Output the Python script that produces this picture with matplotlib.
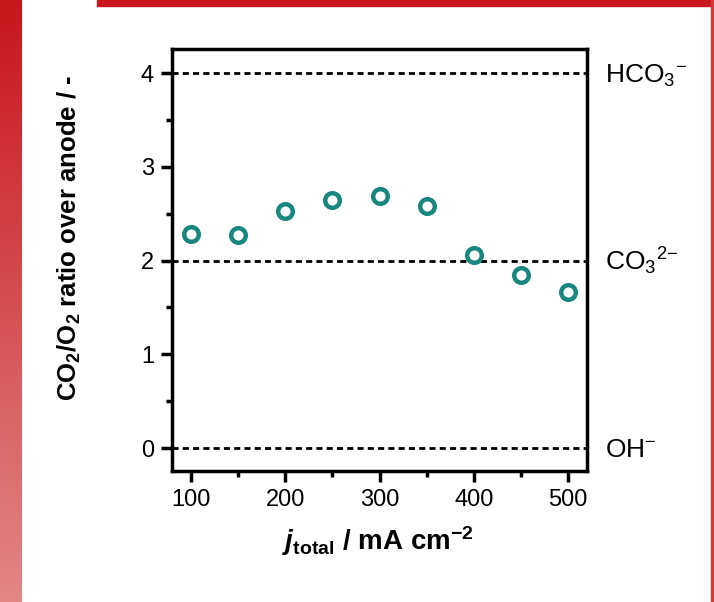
import numpy as np
import matplotlib
matplotlib.use('Agg')
import matplotlib.pyplot as plt
from matplotlib.patches import Rectangle
from matplotlib.transforms import blended_transform_factory, offset_copy

plt.rcParams['font.family'] = ['Liberation Sans', 'DejaVu Sans']
plt.rcParams['mathtext.fontset'] = 'custom'
plt.rcParams['mathtext.rm'] = 'Liberation Sans'
plt.rcParams['mathtext.it'] = 'Liberation Sans:italic:bold'
plt.rcParams['mathtext.bf'] = 'Liberation Sans:bold'

# data
j_total = [100, 150, 200, 250, 300, 350, 400, 450, 500]
ratio = [2.28, 2.27, 2.53, 2.65, 2.69, 2.58, 2.06, 1.85, 1.66]
ref_levels = [4, 2, 0]
ref_labels = ['HCO$_3$$^{{-}}$', 'CO$_3$$^{2{-}}$', 'OH$^{{-}}$']
xticks = [100, 200, 300, 400, 500]
yticks = [0, 1, 2, 3, 4]

fig = plt.figure(figsize=(7.14, 6.02), dpi=100)

# red frame around the slide
grad = fig.add_axes([0, 0, 22 / 714, 1])
g = np.linspace(0, 1, 256).reshape(-1, 1)
top_c = np.array([200, 22, 28]) / 255
bot_c = np.array([226, 135, 135]) / 255
img = top_c[None, None, :] * (1 - g[..., None]) + bot_c[None, None, :] * g[..., None]
grad.imshow(img, aspect='auto', extent=[0, 1, 0, 1])
grad.set_axis_off()
fig.patches.append(Rectangle((97 / 714, 1 - 6 / 602), 1, 6 / 602, transform=fig.transFigure,
                             color='#c8161c', zorder=0))
fig.patches.append(Rectangle((711 / 714, 0), 3 / 714, 1, transform=fig.transFigure,
                             color='#d23a3a', zorder=0))

# axes box: 172..587 px wide, 49..471 px tall
ax = fig.add_axes([172 / 714, 1 - 471 / 602, 415 / 714, 422 / 602])

for lv in ref_levels:
    ax.axhline(lv, color='black', linestyle=(0, (2.2, 1.5)), linewidth=2, zorder=1)

ax.plot(j_total, ratio, linestyle='none', marker='o', markersize=10.5,
        markerfacecolor='white', markeredgecolor='#17877f', markeredgewidth=3.2, zorder=3)

ax.set_xlim(80, 520)
ax.set_ylim(-0.245, 4.256)
ax.set_xticks(xticks)
ax.set_xticks([150, 250, 350, 450], minor=True)
ax.set_yticks(yticks)
ax.set_yticks([0.5, 1.5, 2.5, 3.5], minor=True)
ax.tick_params(which='major', direction='out', length=8, width=2.5, labelsize=17, pad=5)
ax.tick_params(which='minor', direction='out', length=4, width=2.5)
for sp in ax.spines.values():
    sp.set_linewidth(2.5)

tr = blended_transform_factory(ax.transAxes, ax.transData)
tr = offset_copy(tr, fig=fig, y=-6.8, units='points')
for lv, lab in zip(ref_levels, ref_labels):
    ax.text(1.043, lv, lab, transform=tr, fontsize=19, va='baseline', ha='left')

ax.set_xlabel(r'$\mathit{j}_{\mathbf{total}}$ / mA cm$^{\mathbf{{-}2}}$',
              fontsize=20, fontweight='bold')
ax.xaxis.set_label_coords(0.496, -0.126)
ax.set_ylabel(r'CO$_\mathbf{2}$/O$_\mathbf{2}$ ratio over anode / -',
              fontsize=18.5, fontweight='bold')
ax.yaxis.set_label_coords(-0.214, 0.552)

fig.savefig('out.png', dpi=100)
